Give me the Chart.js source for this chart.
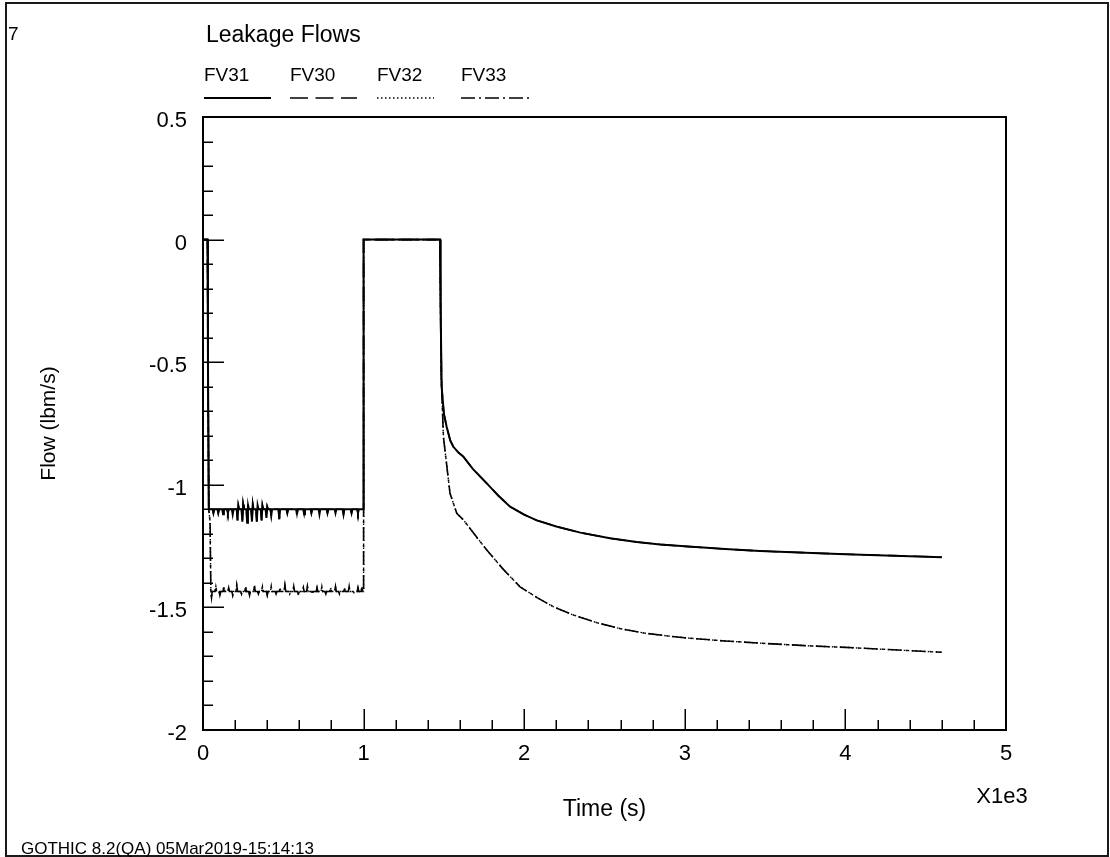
<!DOCTYPE html>
<html><head><meta charset="utf-8">
<script src="https://cdn.jsdelivr.net/npm/chart.js@4.4.1/dist/chart.umd.min.js"></script>
<style>
html,body{margin:0;padding:0;background:#fff;}
#wrap{position:relative;width:1110px;height:857px;overflow:hidden;font-family:"Liberation Sans",Arial,sans-serif;color:#000;background:#fff;}
#c{position:absolute;left:0;top:0;}
.t{position:absolute;white-space:nowrap;line-height:1;}
#frame{position:absolute;left:5px;top:2px;width:1100px;height:851px;border:2px solid #1a1a1a;pointer-events:none;}
</style></head><body>
<div id="wrap">
<canvas id="c" width="1110" height="857"></canvas>
<div id="frame"></div>
</div>
<script>
// ---- tick labels ----
const xTickValues = [0, 1000, 2000, 3000, 4000, 5000];
const xTickLabels = ['0', '1', '2', '3', '4', '5'];
const yTickValues = [-2, -1.5, -1, -0.5, 0, 0.5];
const yTickLabels = ['-2', '-1.5', '-1', '-0.5', '0', '0.5'];
const seriesNames = ['FV31', 'FV30', 'FV32', 'FV33'];

// ---- FV31 (time in s, flow in lbm/s) ----
const fv31Time = [0, 28, 31, 36,
  60, 65, 70, 90, 95, 100, 120, 125, 130, 150, 155, 160, 180, 185, 190,
  210, 215, 220, 225, 240, 245, 250, 255, 270, 275, 280, 285, 300, 305, 310, 315,
  330, 335, 340, 345, 360, 365, 370, 375, 390, 395, 400, 405, 420, 425, 430,
  470, 475, 480, 520, 525, 530, 580, 585, 590, 625, 630, 635, 670, 675, 680,
  720, 725, 730, 770, 775, 780, 820, 825, 830, 870, 875, 880, 920, 925, 930, 960, 965, 970,
  1000, 1000,
  1476, 1480, 1486, 1500, 1517, 1540, 1559, 1590, 1621, 1680, 1767, 1840, 1912, 2000, 2078, 2200, 2350, 2534, 2700, 2846, 3000, 3250, 3468, 3750, 4000, 4300, 4600];
const fv31Flow = [0, 0, -0.5, -1.1,
  -1.1, -1.115, -1.1, -1.1, -1.115, -1.1, -1.1, -1.12, -1.1, -1.1, -1.115, -1.1, -1.1, -1.12, -1.1,
  -1.1, -1.145, -1.085, -1.1, -1.1, -1.15, -1.08, -1.1, -1.1, -1.155, -1.08, -1.1, -1.1, -1.15, -1.08, -1.1,
  -1.1, -1.15, -1.085, -1.1, -1.1, -1.145, -1.085, -1.1, -1.1, -1.135, -1.09, -1.1, -1.1, -1.125, -1.1,
  -1.1, -1.14, -1.1, -1.1, -1.115, -1.1, -1.1, -1.12, -1.1, -1.1, -1.12, -1.1, -1.1, -1.115, -1.1,
  -1.1, -1.12, -1.1, -1.1, -1.115, -1.1, -1.1, -1.115, -1.1, -1.1, -1.12, -1.1, -1.1, -1.115, -1.1, -1.1, -1.115, -1.1,
  -1.1, 0,
  0, -0.3, -0.6, -0.71, -0.763, -0.82, -0.845, -0.868, -0.885, -0.935, -0.994, -1.045, -1.089, -1.122, -1.145, -1.170, -1.195, -1.218, -1.233, -1.243, -1.251, -1.262, -1.27, -1.277, -1.283, -1.289, -1.295];

// ---- FV33 ----
const fv33Time = [0, 28, 31, 36, 44, 49, 53, 57,
  75, 80, 85, 100, 105, 110, 125, 130, 135, 155, 160, 165, 180, 185, 190, 205, 210, 215,
  235, 240, 245, 260, 265, 270, 285, 290, 295, 315, 320, 325, 340, 345, 350, 365, 370, 375,
  395, 400, 405, 420, 425, 430, 450, 455, 460, 475, 480, 485, 505, 510, 515, 535, 540, 545,
  560, 565, 570, 590, 595, 600, 620, 625, 630, 645, 650, 655, 675, 680, 685, 705, 710, 715,
  735, 740, 745, 760, 765, 770, 790, 795, 800, 820, 825, 830, 845, 850, 855, 875, 880, 885,
  905, 910, 915, 935, 940, 945, 960, 965, 970, 985, 990, 995,
  1000, 1000,
  1476, 1480, 1484, 1497, 1538, 1580, 1621, 1700, 1767, 1870, 1974, 2080, 2181, 2306, 2450, 2600, 2750, 2900, 3000, 3250, 3500, 3750, 4000, 4300, 4600];
const fv33Flow = [0, 0, -0.5, -1.1, -1.15, -1.44, -1.46, -1.435,
  -1.435, -1.415, -1.435, -1.435, -1.45, -1.435, -1.435, -1.415, -1.435, -1.435, -1.42, -1.435, -1.435, -1.45, -1.435, -1.435, -1.41, -1.435,
  -1.435, -1.445, -1.435, -1.435, -1.415, -1.435, -1.435, -1.45, -1.435, -1.435, -1.41, -1.435, -1.435, -1.445, -1.435, -1.435, -1.415, -1.435,
  -1.435, -1.45, -1.435, -1.435, -1.415, -1.435, -1.435, -1.445, -1.435, -1.435, -1.42, -1.435, -1.435, -1.41, -1.435, -1.435, -1.445, -1.435,
  -1.435, -1.415, -1.435, -1.435, -1.45, -1.435, -1.435, -1.42, -1.435, -1.435, -1.415, -1.435, -1.435, -1.445, -1.435, -1.435, -1.42, -1.435,
  -1.435, -1.415, -1.435, -1.435, -1.445, -1.435, -1.435, -1.42, -1.435, -1.435, -1.415, -1.435, -1.435, -1.445, -1.435, -1.435, -1.42, -1.435,
  -1.435, -1.415, -1.435, -1.435, -1.44, -1.435, -1.435, -1.42, -1.435, -1.435, -1.415, -1.435,
  -1.435, 0,
  0, -0.35, -0.57, -0.804, -1.035, -1.116, -1.143, -1.21, -1.266, -1.345, -1.416, -1.46, -1.497, -1.531, -1.562, -1.587, -1.605, -1.617, -1.624, -1.637, -1.647, -1.656, -1.663, -1.673, -1.683];

// FV30 and FV32 lie under FV31 and FV33 in the picture
const fv30Time = fv31Time, fv30Flow = fv31Flow;
const fv32Time = fv33Time, fv32Flow = fv33Flow;

function pairs(t, v) { const n = Math.min(t.length, v.length); const out = []; for (let i = 0; i < n; i++) out.push({x: t[i], y: v[i]}); return out; }
function labelFor(vals, labels, v) { const i = vals.findIndex(a => Math.abs(a - v) < 1e-6); return i >= 0 ? labels[i] : ''; }

const FONT = '"Liberation Sans", Arial, sans-serif';
const legendPos = [[204, 271], [290, 357], [377, 434], [461, 529]];

const overlay = {
  id: 'overlay',
  afterDraw(chart) {
    const {ctx, chartArea: a, scales: {x, y}} = chart;
    ctx.save();
    ctx.strokeStyle = '#000';
    ctx.lineWidth = 2;
    ctx.strokeRect(a.left, a.top, a.right - a.left, a.bottom - a.top);
    ctx.lineWidth = 1.5;
    ctx.beginPath();
    y.ticks.forEach(t => {
      const py = Math.round(y.getPixelForValue(t.value)) + 0.25;
      const major = labelFor(yTickValues, yTickLabels, t.value) !== '';
      ctx.moveTo(a.left, py); ctx.lineTo(a.left + (major ? 21 : 10), py);
    });
    x.ticks.forEach(t => {
      const px = Math.round(x.getPixelForValue(t.value)) + 0.25;
      const major = labelFor(xTickValues, xTickLabels, t.value) !== '';
      ctx.moveTo(px, a.bottom); ctx.lineTo(px, a.bottom - (major ? 21 : 10));
    });
    ctx.stroke();
    // legend samples
    chart.data.datasets.forEach((ds, i) => {
      const [x1, x2] = legendPos[i];
      ctx.beginPath();
      ctx.lineWidth = ds.borderWidth;
      ctx.setLineDash(ds.borderDash || []);
      ctx.moveTo(x1, 98); ctx.lineTo(x2, 98);
      ctx.stroke();
    });
    ctx.restore();
  }
};

new Chart(document.getElementById('c'), {
  type: 'line',
  data: {
    datasets: [
      {label: seriesNames[0], data: pairs(fv31Time, fv31Flow), borderColor: '#000', borderWidth: 2, borderDash: []},
      {label: seriesNames[1], data: pairs(fv30Time, fv30Flow), borderColor: '#000', borderWidth: 1.6, borderDash: [18, 7.5]},
      {label: seriesNames[2], data: pairs(fv32Time, fv32Flow), borderColor: '#000', borderWidth: 1.4, borderDash: [1.5, 2.5]},
      {label: seriesNames[3], data: pairs(fv33Time, fv33Flow), borderColor: '#000', borderWidth: 1.6, borderDash: [14, 4, 2, 4]}
    ]
  },
  options: {
    responsive: false,
    animation: false,
    events: [],
    elements: {point: {radius: 0}, line: {tension: 0, fill: false}},
    layout: {padding: {top: 117, right: 104, left: 0, bottom: 0}},
    plugins: {legend: {display: false}, tooltip: {enabled: false}, title: {display: false}},
    scales: {
      x: {
        type: 'linear', min: 0, max: 5000,
        afterFit(s) { s.height = 127; },
        grid: {display: true, drawOnChartArea: false, drawTicks: false},
        border: {display: true, color: '#000', width: 2},
        ticks: {stepSize: 200, maxTicksLimit: 100, autoSkip: false, maxRotation: 0, padding: 11, color: '#000',
          font: {family: FONT, size: 22},
          callback: v => labelFor(xTickValues, xTickLabels, v)},
        title: {display: true, text: 'Time (s)', color: '#000', font: {family: FONT, size: 23}, padding: {top: 0, bottom: 34}}
      },
      y: {
        type: 'linear', min: -2, max: 0.5,
        afterFit(s) { s.width = 203; },
        grid: {display: true, drawOnChartArea: false, drawTicks: false},
        border: {display: true, color: '#000', width: 2},
        ticks: {stepSize: 0.1, maxTicksLimit: 100, autoSkip: false, padding: 16, labelOffset: 4, color: '#000',
          font: {family: FONT, size: 22},
          callback: v => labelFor(yTickValues, yTickLabels, v)},
        title: {display: true, text: 'Flow (lbm/s)', color: '#000', font: {family: FONT, size: 21}, padding: {top: 37, bottom: 0}}
      }
    }
  },
  plugins: [overlay]
});

// ---- text overlays ----
const wrap = document.getElementById('wrap');
function addText(txt, left, cy, size, center) {
  const d = document.createElement('div');
  d.className = 't';
  d.textContent = txt;
  d.style.fontSize = size + 'px';
  d.style.left = left + 'px';
  d.style.top = cy + 'px';
  d.style.transform = center ? 'translate(-50%,-50%)' : 'translateY(-50%)';
  wrap.appendChild(d);
}
addText('7', 8, 33, 19, false);
addText('Leakage Flows', 206, 34, 23, false);
seriesNames.forEach((n, i) => addText(n, legendPos[i][0], 74, 19, false));
addText('X1e3', 1002, 796, 22, true);
addText('GOTHIC 8.2(QA) 05Mar2019-15:14:13', 21, 848, 17, false);
</script>
</body></html>
